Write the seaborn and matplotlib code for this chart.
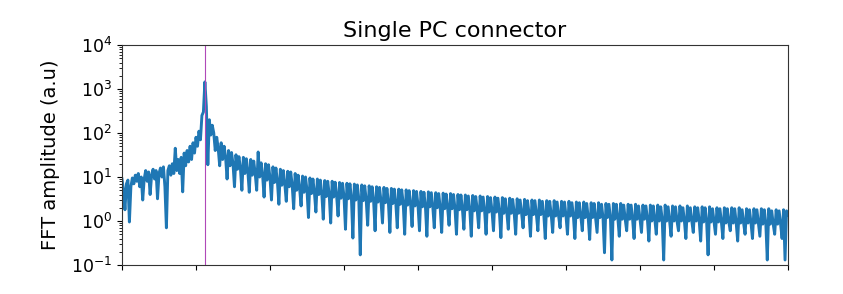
import matplotlib
matplotlib.use("Agg")
import matplotlib.pyplot as plt
import numpy as np
import pandas as pd
import seaborn as sns

# ---- data ----
title = "Single PC connector"
ylabel = "FFT amplitude (a.u)"
bin_width = 2.0          # frequency-bin spacing (axis units)
marker_freq = 112        # vertical marker (resonance)

left_side = [9, 5, 1.8, 7, 8.5, 0.95, 6, 9.5, 7, 11, 8, 12, 6, 10, 3, 9, 14, 8, 13, 4,
             11, 15, 9, 14, 3.2, 12, 16, 10, 17, 6, 0.7, 14, 18, 11, 20, 12,
             45, 14, 25, 12, 28, 4.6, 35, 18, 40, 22, 50, 25, 60, 35, 80, 50, 110, 70, 250, 300]
peak = [1450]
near_peak = [400, 19, 200, 90, 150,
             100, 40, 80, 45, 18,
             60, 25, 50, 28, 9,
             40, 18, 36, 20, 6,
             32, 15, 29, 16, 5,
             28, 12, 26, 14, 4.5,
             25, 11, 23, 12, 5,
             37, 10, 21, 11, 3.5,
             20, 8.5, 19, 9.5, 3,
             17, 7.5, 16, 8, 2.4,
             15, 6.5, 14, 7, 2.8,
             13.5, 6, 13, 6.5, 1.9,
             12, 5, 11, 5.5, 2.2,
             10.5, 4.5, 10, 5, 1.2]
mid_tail = [9.5, 4.2, 9, 4.5, 1.6,
            9, 4, 8.5, 4.2, 1.1,
            8.3, 3.6, 8, 4, 0.9,
            8, 3.5, 7.6, 3.8, 1.3,
            7.5, 3.3, 7.2, 3.6, 0.65,
            7.2, 3.2, 7, 3.4, 0.41,
            6.9, 3, 6.6, 3.2, 0.17,
            6.6, 2.9, 6.3, 3, 0.8,
            6.3, 2.8, 6, 2.9, 0.6,
            6, 2.7, 5.8, 2.8, 0.9,
            5.8, 2.6, 5.5, 2.7, 0.55,
            5.5, 2.5, 5.3, 2.6, 0.7,
            5.3, 2.4, 5.1, 2.5, 0.5,
            5.1, 2.3, 4.9, 2.4, 0.75,
            4.9, 2.2, 4.7, 2.3, 0.6,
            4.7, 2.1, 4.5, 2.2, 0.45,
            4.6, 2.1, 4.4, 2.1, 0.7,
            4.4, 2.0, 4.2, 2.0, 0.55,
            4.3, 1.9, 4.1, 2.0, 0.8,
            4.2, 1.9, 4.0, 1.9, 0.5,
            4.0, 1.8, 3.9, 1.9, 0.65,
            3.9, 1.8, 3.7, 1.8, 0.45,
            3.8, 1.7, 3.6, 1.8, 0.7,
            3.7, 1.7, 3.5, 1.7, 0.5,
            3.6, 1.6, 3.4, 1.7, 0.6,
            3.5, 1.6, 3.3, 1.6, 0.42,
            3.4, 1.5, 3.2, 1.6, 0.65,
            3.3, 1.5, 3.1, 1.5, 0.5,
            3.2, 1.5, 3.0, 1.5, 0.7,
            3.1, 1.4, 2.9, 1.5, 0.45]
far_tail = [3.0, 1.4, 2.9, 1.4, 0.6,
            3.0, 1.4, 2.8, 1.4, 0.4,
            2.9, 1.3, 2.8, 1.4, 0.55,
            2.9, 1.3, 2.7, 1.3, 0.7,
            2.8, 1.3, 2.7, 1.3, 0.5,
            2.8, 1.3, 2.6, 1.3, 0.4,
            2.7, 1.2, 2.6, 1.3, 0.6,
            2.7, 1.2, 2.5, 1.2, 0.38,
            2.6, 1.2, 2.5, 1.2, 0.55,
            2.6, 1.2, 2.4, 1.2, 0.19,
            2.5, 1.2, 2.4, 1.2, 0.13,
            2.5, 1.1, 2.4, 1.2, 0.45,
            2.5, 1.1, 2.3, 1.1, 0.6,
            2.4, 1.1, 2.3, 1.1, 0.4,
            2.4, 1.1, 2.2, 1.1, 0.55,
            2.3, 1.1, 2.2, 1.1, 0.35,
            2.3, 1.0, 2.2, 1.1, 0.5,
            2.3, 1.0, 2.1, 1.1, 0.13,
            2.3, 1.0, 2.1, 1.0, 0.45,
            2.2, 1.0, 2.1, 1.0, 0.6,
            2.2, 1.0, 2.0, 1.0, 0.4,
            2.2, 1.0, 2.0, 1.0, 0.55,
            2.1, 1.0, 2.0, 1.0, 0.35,
            2.1, 0.95, 2.0, 1.0, 0.17,
            2.1, 0.95, 1.9, 0.95, 0.5,
            2.0, 0.95, 1.9, 0.95, 0.4,
            2.0, 0.9, 1.9, 0.95, 0.6,
            2.0, 0.9, 1.9, 0.9, 0.35,
            2.0, 0.9, 1.8, 0.9, 0.5,
            1.9, 0.9, 1.8, 0.9, 0.4,
            1.9, 0.9, 1.8, 0.9, 0.45,
            1.9, 0.85, 1.8, 0.9, 0.13,
            1.9, 0.85, 1.7, 0.85, 0.5,
            1.8, 0.85, 1.7, 0.85, 0.4,
            1.8, 0.13, 1.7, 1.4]

amplitude = left_side + peak + near_peak + mid_tail + far_tail
freq = np.arange(len(amplitude)) * bin_width
df = pd.DataFrame({"freq": freq, "amp": amplitude})

# ---- figure ----
fig = plt.figure(figsize=(8.43, 2.94), dpi=100)
ax = fig.add_axes([122 / 843, 1 - 265 / 294, 666 / 843, 220 / 294])

sns.lineplot(data=df, x="freq", y="amp", ax=ax, color="#1f77b4", linewidth=2.1)
ax.axvline(marker_freq, color="#b048b8", linewidth=0.8)

ax.set_yscale("log")
ax.set_ylim(0.1, 1e4)
ax.set_xlim(0, 900)
ax.set_xticks(np.arange(0, 901, 100))
ax.set_xticklabels([])
ax.set_xlabel("")
ax.set_ylabel(ylabel, fontsize=14, labelpad=8)
ax.set_title(title, fontsize=16)
ax.tick_params(axis="y", labelsize=12.5)
for s in ax.spines.values():
    s.set_color("#333333")

fig.savefig("out.png", dpi=100)
